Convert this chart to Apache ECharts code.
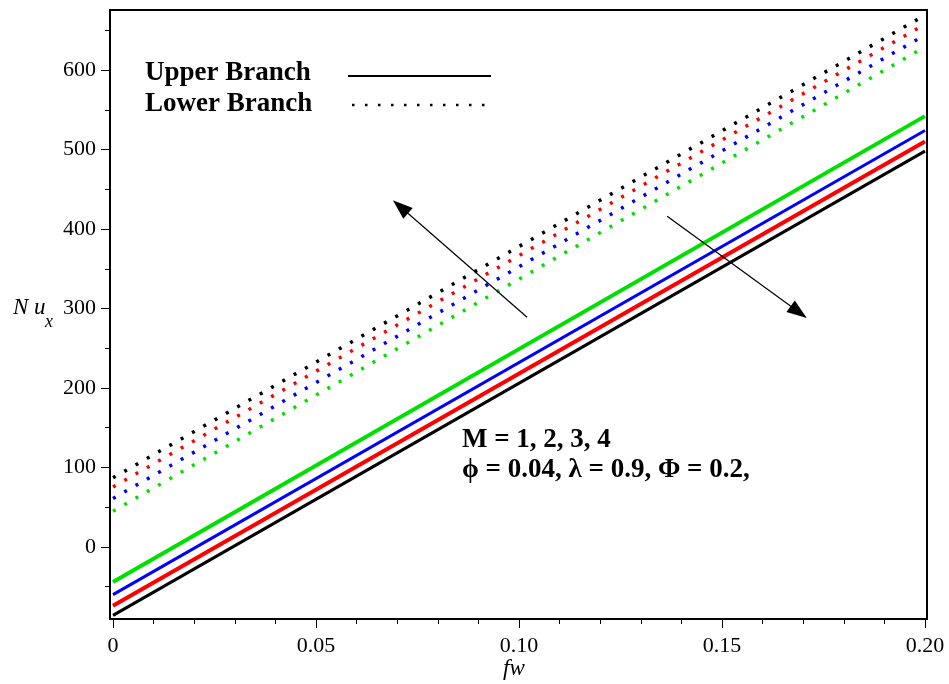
<!DOCTYPE html>
<html>
<head>
<meta charset="utf-8">
<script src="https://cdn.jsdelivr.net/npm/echarts@6/dist/echarts.min.js"></script>
<style>
  html, body { margin: 0; padding: 0; background: #ffffff; }
  #chart { width: 949px; height: 684px; }
</style>
</head>
<body>
<div id="chart"></div>
<script>
// Suction parameter fw (x axis)
const fw = [0, 0.2];

// Nusselt number, upper branch (solid lines), M = 1, 2, 3, 4
const upperM1 = [-44, 542];
const upperM2 = [-60, 524];
const upperM3 = [-74, 510];
const upperM4 = [-86, 498];

// Nusselt number, lower branch (dotted lines), M = 1, 2, 3, 4
const lowerM1 = [45, 629];
const lowerM2 = [61, 644];
const lowerM3 = [75.5, 657.5];
const lowerM4 = [87, 669];

// Axis ticks
const xMajorTicks = [0, 0.05, 0.10, 0.15, 0.20];
const xMinorTicks = [0.01, 0.02, 0.03, 0.04, 0.06, 0.07, 0.08, 0.09,
                     0.11, 0.12, 0.13, 0.14, 0.16, 0.17, 0.18, 0.19];
const yMajorTicks = [0, 100, 200, 300, 400, 500, 600];
const yMinorTicks = [-50, 50, 150, 250, 350, 450, 550, 650];

// Direction arrows (tail -> head) in data coordinates
const arrowLower = [[0.1020, 289], [0.0708, 428]];
const arrowUpper = [[0.1365, 416], [0.1689, 295.5]];

const SERIF = 'Liberation Serif';
const colors = ['#00e000', '#0000ff', '#ff0000', '#000000'];

function pairs(xs, ys) { return xs.map((x, i) => [x, ys[i]]); }

const upper = [upperM1, upperM2, upperM3, upperM4];
const lower = [lowerM1, lowerM2, lowerM3, lowerM4];
const solidWidths = [4, 3, 4, 3];

const series = [];
upper.forEach((vals, i) => {
  series.push({
    name: 'Upper M=' + (i + 1), type: 'line', data: pairs(fw, vals),
    showSymbol: false, symbol: 'none', silent: true,
    lineStyle: { color: colors[i], width: solidWidths[i], type: 'solid' },
    z: 3
  });
});
lower.forEach((vals, i) => {
  series.push({
    name: 'Lower M=' + (i + 1), type: 'line', data: pairs(fw, vals),
    showSymbol: false, symbol: 'none', silent: true,
    lineStyle: { color: colors[i], width: 3.5, type: [3, 10], cap: 'butt' },
    z: 3
  });
});

const arrowHead = 'path://M5,0 L10,14 L0,14 Z';
series.push({
  type: 'line', data: [], silent: true, z: 5,
  markLine: {
    silent: true, animation: false,
    symbol: ['none', arrowHead], symbolSize: 20, symbolKeepAspect: true,
    label: { show: false },
    lineStyle: { color: '#000', width: 1.2, type: 'solid' },
    emphasis: { disabled: true },
    data: [
      [{ coord: arrowLower[0] }, { coord: arrowLower[1] }],
      [{ coord: arrowUpper[0] }, { coord: arrowUpper[1] }]
    ]
  }
});

const option = {
  animation: false,
  backgroundColor: '#fff',
  textStyle: { fontFamily: SERIF, fontSize: 22, color: '#000' },
  grid: {
    left: 110, right: 22, top: 10, bottom: 65,
    show: true, borderColor: '#000', borderWidth: 2, backgroundColor: 'transparent'
  },
  xAxis: [
    {
      type: 'value', min: -0.00074, max: 0.2005, position: 'bottom',
      axisLine: { show: true, onZero: false, lineStyle: { color: '#000', width: 2 } },
      axisTick: { show: true, inside: false, customValues: xMajorTicks, length: 9, lineStyle: { color: '#000', width: 1 } },
      axisLabel: {
        customValues: xMajorTicks, margin: 16,
        fontFamily: SERIF, fontSize: 22, color: '#000',
        formatter: v => (v === 0 ? '0' : v.toFixed(2))
      },
      splitLine: { show: false }
    },
    {
      type: 'value', min: -0.00074, max: 0.2005, position: 'bottom',
      axisLine: { show: false, onZero: false },
      axisTick: { show: true, inside: false, customValues: xMinorTicks, length: 5, lineStyle: { color: '#000', width: 1 } },
      axisLabel: { show: false },
      splitLine: { show: false }
    }
  ],
  yAxis: [
    {
      type: 'value', min: -90.6, max: 675.5, position: 'left',
      axisLine: { show: true, onZero: false, lineStyle: { color: '#000', width: 2 } },
      axisTick: { show: true, inside: false, customValues: yMajorTicks, length: 9, lineStyle: { color: '#000', width: 1 } },
      axisLabel: {
        customValues: yMajorTicks, margin: 14,
        fontFamily: SERIF, fontSize: 22, color: '#000'
      },
      splitLine: { show: false }
    },
    {
      type: 'value', min: -90.6, max: 675.5, position: 'left',
      axisLine: { show: false, onZero: false },
      axisTick: { show: true, inside: false, customValues: yMinorTicks, length: 5, lineStyle: { color: '#000', width: 1 } },
      axisLabel: { show: false },
      splitLine: { show: false }
    }
  ],
  series: series,
  graphic: [
    // legend
    { type: 'text', left: 145, top: 60, style: { text: 'Upper Branch', fontFamily: SERIF, fontWeight: 'bold', fontSize: 27, fill: '#000' } },
    { type: 'text', left: 145, top: 91, style: { text: 'Lower Branch', fontFamily: SERIF, fontWeight: 'bold', fontSize: 27, fill: '#000' } },
    { type: 'line', shape: { x1: 348, y1: 76, x2: 491, y2: 76 }, style: { stroke: '#000', lineWidth: 2 } },
    { type: 'line', shape: { x1: 352, y1: 105, x2: 486, y2: 105 }, style: { stroke: '#000', lineWidth: 2.5, lineDash: [2.5, 10.5] } },
    // parameter annotation
    { type: 'text', left: 462, top: 427, style: { text: 'M = 1, 2, 3, 4', fontFamily: SERIF, fontWeight: 'bold', fontSize: 27, fill: '#000' } },
    { type: 'text', left: 462, top: 457, style: { text: 'ϕ = 0.04, λ = 0.9, Φ = 0.2,', fontFamily: SERIF, fontWeight: 'bold', fontSize: 27, fill: '#000' } },
    // axis titles
    { type: 'text', left: 13, top: 296, style: { text: 'N u', fontFamily: SERIF, fontStyle: 'italic', fontSize: 23, fill: '#000' } },
    { type: 'text', left: 45, top: 313, style: { text: 'x', fontFamily: SERIF, fontStyle: 'italic', fontSize: 18, fill: '#000' } },
    { type: 'text', left: 503, top: 657, style: { text: 'fw', fontFamily: SERIF, fontStyle: 'italic', fontSize: 23, fill: '#000' } }
  ]
};

const chart = echarts.init(document.getElementById('chart'), null, { renderer: 'canvas' });
chart.setOption(option);
</script>
</body>
</html>
